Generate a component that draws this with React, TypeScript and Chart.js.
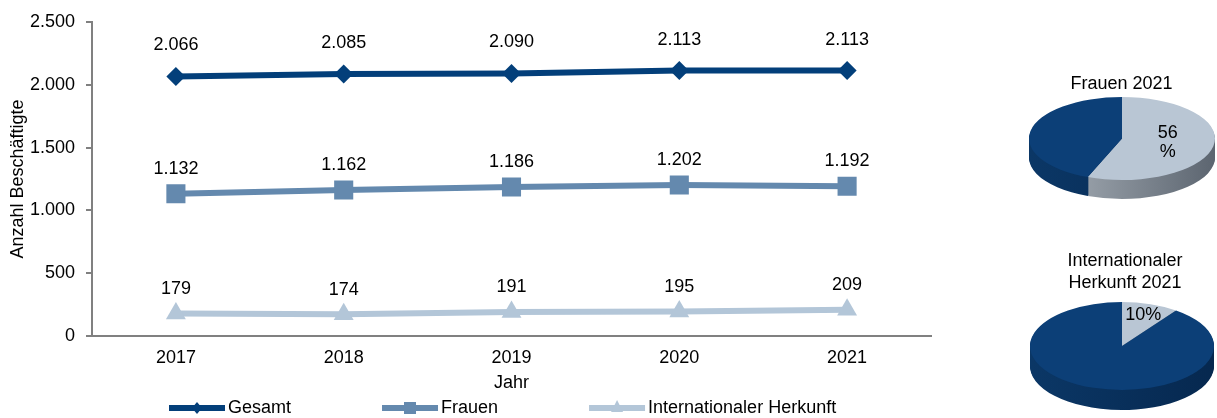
import React, { useEffect, useRef } from 'react';
import { Chart, registerables } from 'chart.js';

Chart.register(...registerables);

const FONT_FAMILY = '"Liberation Sans", Arial, Helvetica, sans-serif';
Chart.defaults.font.family = FONT_FAMILY;
Chart.defaults.color = '#000';

// ---------- data ----------
const years = ['2017', '2018', '2019', '2020', '2021'];
const gesamt = [2066, 2085, 2090, 2113, 2113];
const frauen = [1132, 1162, 1186, 1202, 1192];
const internationalerHerkunft = [179, 174, 191, 195, 209];
const seriesNames = ['Gesamt', 'Frauen', 'Internationaler Herkunft'];
const yAxisTitle = 'Anzahl Beschäftigte';
const xAxisTitle = 'Jahr';
const yMin = 0;
const yMax = 2500;
const yStep = 500;

const frauenPieTitle = 'Frauen 2021';
const frauenPieLabels = ['Frauen', 'Männer'];
const frauenPieValues = [56, 44];

const intPieTitle = ['Internationaler', 'Herkunft 2021'];
const intPieLabels = ['Internationaler Herkunft', 'Andere'];
const intPieValues = [10, 90];

// ---------- styles ----------
const C_GESAMT = '#033f7a';
const C_FRAUEN = '#6489ae';
const C_INT = '#b3c6d8';
const PIE_LIGHT = '#b9c6d4';
const PIE_DARK = '#0c3f77';

const fmt = (v: number) => String(v).replace(/\B(?=(\d{3})+(?!\d))/g, '.');

const valueLabelPlugin = {
  id: 'valueLabels',
  afterDatasetsDraw(chart: any) {
    const ctx = chart.ctx;
    ctx.save();
    ctx.font = `18px ${FONT_FAMILY}`;
    ctx.fillStyle = '#000';
    ctx.textAlign = 'center';
    ctx.textBaseline = 'middle';
    chart.data.datasets.forEach((ds: any, i: number) => {
      const meta = chart.getDatasetMeta(i);
      meta.data.forEach((pt: any, j: number) => {
        ctx.fillText(fmt(ds.data[j]), pt.x, pt.y - ds.labelOffset);
      });
    });
    ctx.restore();
  },
};

const bottomLegendPlugin = {
  id: 'bottomLegend',
  afterDraw(chart: any, _args: any, opts: any) {
    const ctx = chart.ctx;
    const area = chart.chartArea;
    ctx.save();
    ctx.font = `18px ${FONT_FAMILY}`;
    ctx.fillStyle = '#000';
    ctx.textBaseline = 'middle';
    ctx.textAlign = 'center';
    ctx.fillText(opts.axisTitle, (area.left + area.right) / 2, opts.axisTitleY);
    ctx.textAlign = 'left';
    let x = opts.startX;
    const y = opts.y;
    chart.data.datasets.forEach((ds: any) => {
      const len = opts.lineLength;
      ctx.strokeStyle = ds.borderColor;
      ctx.lineWidth = 6;
      ctx.beginPath();
      ctx.moveTo(x, y);
      ctx.lineTo(x + len, y);
      ctx.stroke();
      const mx = x + len / 2;
      ctx.fillStyle = ds.borderColor;
      ctx.beginPath();
      if (ds.markerType === 'diamond') {
        ctx.moveTo(mx, y - 6);
        ctx.lineTo(mx + 5, y);
        ctx.lineTo(mx, y + 6);
        ctx.lineTo(mx - 5, y);
      } else if (ds.markerType === 'square') {
        ctx.rect(mx - 6, y - 6, 12, 12);
      } else {
        ctx.moveTo(mx, y - 8);
        ctx.lineTo(mx + 6, y + 4);
        ctx.lineTo(mx - 6, y + 4);
      }
      ctx.closePath();
      ctx.fill();
      ctx.fillStyle = '#000';
      const tx = x + len + opts.textGap;
      ctx.fillText(ds.label, tx, y);
      x = tx + ctx.measureText(ds.label).width + opts.itemGap;
    });
    ctx.restore();
  },
};

function LineChart() {
  const ref = useRef<HTMLCanvasElement>(null);
  useEffect(() => {
    const chart = new Chart(ref.current!, {
      type: 'line',
      data: {
        labels: years,
        datasets: [
          {
            label: seriesNames[0],
            data: gesamt,
            borderColor: C_GESAMT,
            backgroundColor: C_GESAMT,
            borderWidth: 6,
            pointStyle: 'rectRot',
            pointRadius: 9.5,
            pointBorderWidth: 0,
            tension: 0,
            labelOffset: 31,
            markerType: 'diamond',
          } as any,
          {
            label: seriesNames[1],
            data: frauen,
            borderColor: C_FRAUEN,
            backgroundColor: C_FRAUEN,
            borderWidth: 6,
            pointStyle: 'rect',
            pointRadius: 13.5,
            pointBorderWidth: 0,
            tension: 0,
            labelOffset: 25,
            markerType: 'square',
          } as any,
          {
            label: seriesNames[2],
            data: internationalerHerkunft,
            borderColor: C_INT,
            backgroundColor: C_INT,
            borderWidth: 6,
            pointStyle: 'triangle',
            pointRadius: 11.5,
            pointBorderWidth: 0,
            tension: 0,
            labelOffset: 24.5,
            markerType: 'triangle',
          } as any,
        ],
      },
      options: {
        responsive: false,
        animation: false,
        events: [],
        layout: { padding: { top: 22, right: 29, left: 0, bottom: 0 } },
        plugins: {
          legend: { display: false },
          tooltip: { enabled: false },
          bottomLegend: {
            axisTitle: xAxisTitle,
            axisTitleY: 383,
            y: 408,
            startX: 169,
            lineLength: 56,
            textGap: 3,
            itemGap: 91,
          },
        } as any,
        scales: {
          x: {
            type: 'category',
            offset: true,
            grid: { display: false, drawTicks: false },
            border: { display: true, color: '#808080', width: 2 },
            ticks: { font: { size: 18 }, color: '#000', padding: 11, maxRotation: 0 },
            afterFit: (s: any) => {
              s.height = 82;
            },
          },
          y: {
            min: yMin,
            max: yMax,
            grid: {
              display: true,
              drawOnChartArea: false,
              drawTicks: true,
              tickLength: 6,
              color: '#808080',
              lineWidth: 2,
            },
            border: { display: true, color: '#808080', width: 2 },
            ticks: {
              stepSize: yStep,
              font: { size: 18 },
              color: '#000',
              padding: 11,
              callback: (v: any) => fmt(Number(v)),
            },
            title: {
              display: true,
              text: yAxisTitle,
              font: { size: 18 },
              color: '#000',
              padding: { top: 7, bottom: 0 },
            },
            afterFit: (s: any) => {
              s.width = 92;
            },
          },
        },
      },
      plugins: [valueLabelPlugin, bottomLegendPlugin],
    });
    return () => chart.destroy();
  }, []);
  return (
    <canvas
      ref={ref}
      width={960}
      height={418}
      style={{ position: 'absolute', left: 0, top: 0, width: 960, height: 418 }}
    />
  );
}

const pie3dPlugin = {
  id: 'pie3d',
  beforeDatasetsDraw(chart: any, _args: any, opts: any) {
    const ctx = chart.ctx;
    const arcs = chart.getDatasetMeta(0).data;
    if (!arcs.length) return;
    const { x, y, outerRadius: R } = arcs[0].getProps(['x', 'y', 'outerRadius'], true);
    const sx = opts.rx / R;
    const sy = opts.ry / R;
    const sideFills = opts.sideColors.map((pair: string[]) => {
      const gr = ctx.createLinearGradient(x - R, 0, x + R, 0);
      gr.addColorStop(0, pair[0]);
      gr.addColorStop(1, pair[1]);
      return gr;
    });
    for (let d = opts.depth; d >= 1; d--) {
      ctx.save();
      ctx.translate(opts.cx, opts.cy + d);
      ctx.scale(sx, sy);
      ctx.translate(-x, -y);
      arcs.forEach((a: any, i: number) => {
        const p = a.getProps(['startAngle', 'endAngle'], true);
        ctx.beginPath();
        ctx.moveTo(x, y);
        ctx.arc(x, y, R, p.startAngle, p.endAngle);
        ctx.closePath();
        ctx.fillStyle = sideFills[i];
        ctx.fill();
      });
      ctx.restore();
    }
    ctx.save();
    ctx.translate(opts.cx, opts.cy);
    ctx.scale(sx, sy);
    ctx.translate(-x, -y);
  },
  afterDatasetsDraw(chart: any, _args: any, opts: any) {
    const ctx = chart.ctx;
    const arcs = chart.getDatasetMeta(0).data;
    if (!arcs.length) return;
    ctx.restore();
    const values = chart.data.datasets[0].data as number[];
    const total = values.reduce((s, v) => s + v, 0);
    const a = arcs[0].getProps(['startAngle', 'endAngle'], true);
    const mid = (a.startAngle + a.endAngle) / 2;
    const lx = opts.cx + Math.cos(mid) * opts.rx * opts.labelFraction;
    const ly = opts.cy + Math.sin(mid) * opts.ry * opts.labelFraction;
    const pct = Math.round((values[0] / total) * 100);
    const lines = opts.splitLabel ? [String(pct), '%'] : [`${pct}%`];
    ctx.save();
    ctx.font = `18px ${FONT_FAMILY}`;
    ctx.fillStyle = '#000';
    ctx.textAlign = 'center';
    ctx.textBaseline = 'middle';
    const lh = 19;
    lines.forEach((t, i) => {
      ctx.fillText(t, lx, ly + (i - (lines.length - 1) / 2) * lh);
    });
    ctx.restore();
  },
};

type PieProps = {
  title: string | string[];
  labels: string[];
  values: number[];
  left: number;
  top: number;
  width: number;
  height: number;
  padLeft: number;
  titlePadTop: number;
  titleLineHeight: number;
  geom: { cx: number; cy: number; rx: number; ry: number; depth: number };
  labelFraction: number;
  splitLabel: boolean;
  sideColors: string[][];
};

function Pie3D(props: PieProps) {
  const ref = useRef<HTMLCanvasElement>(null);
  useEffect(() => {
    const chart = new Chart(ref.current!, {
      type: 'pie',
      data: {
        labels: props.labels,
        datasets: [
          {
            data: props.values,
            backgroundColor: [PIE_LIGHT, PIE_DARK],
            borderWidth: 0,
            clip: false,
          } as any,
        ],
      },
      options: {
        responsive: false,
        animation: false,
        events: [],
        layout: { padding: { left: props.padLeft, right: 0, top: 0, bottom: 0 } },
        plugins: {
          legend: { display: false },
          tooltip: { enabled: false },
          title: {
            display: true,
            text: props.title,
            color: '#000',
            font: { size: 18, weight: 'normal', lineHeight: props.titleLineHeight },
            padding: { top: props.titlePadTop, bottom: 4 },
          },
          pie3d: {
            ...props.geom,
            labelFraction: props.labelFraction,
            splitLabel: props.splitLabel,
            sideColors: props.sideColors,
          },
        } as any,
      },
      plugins: [pie3dPlugin],
    });
    return () => chart.destroy();
  }, []);
  return (
    <canvas
      ref={ref}
      width={props.width}
      height={props.height}
      style={{
        position: 'absolute',
        left: props.left,
        top: props.top,
        width: props.width,
        height: props.height,
      }}
    />
  );
}

export default function App() {
  return (
    <div
      style={{
        position: 'fixed',
        left: 0,
        top: 0,
        width: 1217,
        height: 418,
        overflow: 'hidden',
        background: '#fff',
      }}
    >
      <LineChart />
      <Pie3D
        title={frauenPieTitle}
        labels={frauenPieLabels}
        values={frauenPieValues}
        left={1010}
        top={55}
        width={207}
        height={170}
        padLeft={16}
        titlePadTop={18}
        titleLineHeight={1.2}
        geom={{ cx: 112, cy: 83.5, rx: 93, ry: 41.5, depth: 19 }}
        labelFraction={0.5}
        splitLabel={true}
        sideColors={[
          ['#aeb6be', '#5c6570'],
          ['#0b3766', '#06284f'],
        ]}
      />
      <Pie3D
        title={intPieTitle}
        labels={intPieLabels}
        values={intPieValues}
        left={1010}
        top={235}
        width={207}
        height={183}
        padLeft={23}
        titlePadTop={15.5}
        titleLineHeight={1.222}
        geom={{ cx: 112, cy: 111, rx: 92, ry: 44, depth: 20 }}
        labelFraction={0.75}
        splitLabel={false}
        sideColors={[
          ['#aeb6be', '#5c6570'],
          ['#0b3766', '#06284f'],
        ]}
      />
    </div>
  );
}
